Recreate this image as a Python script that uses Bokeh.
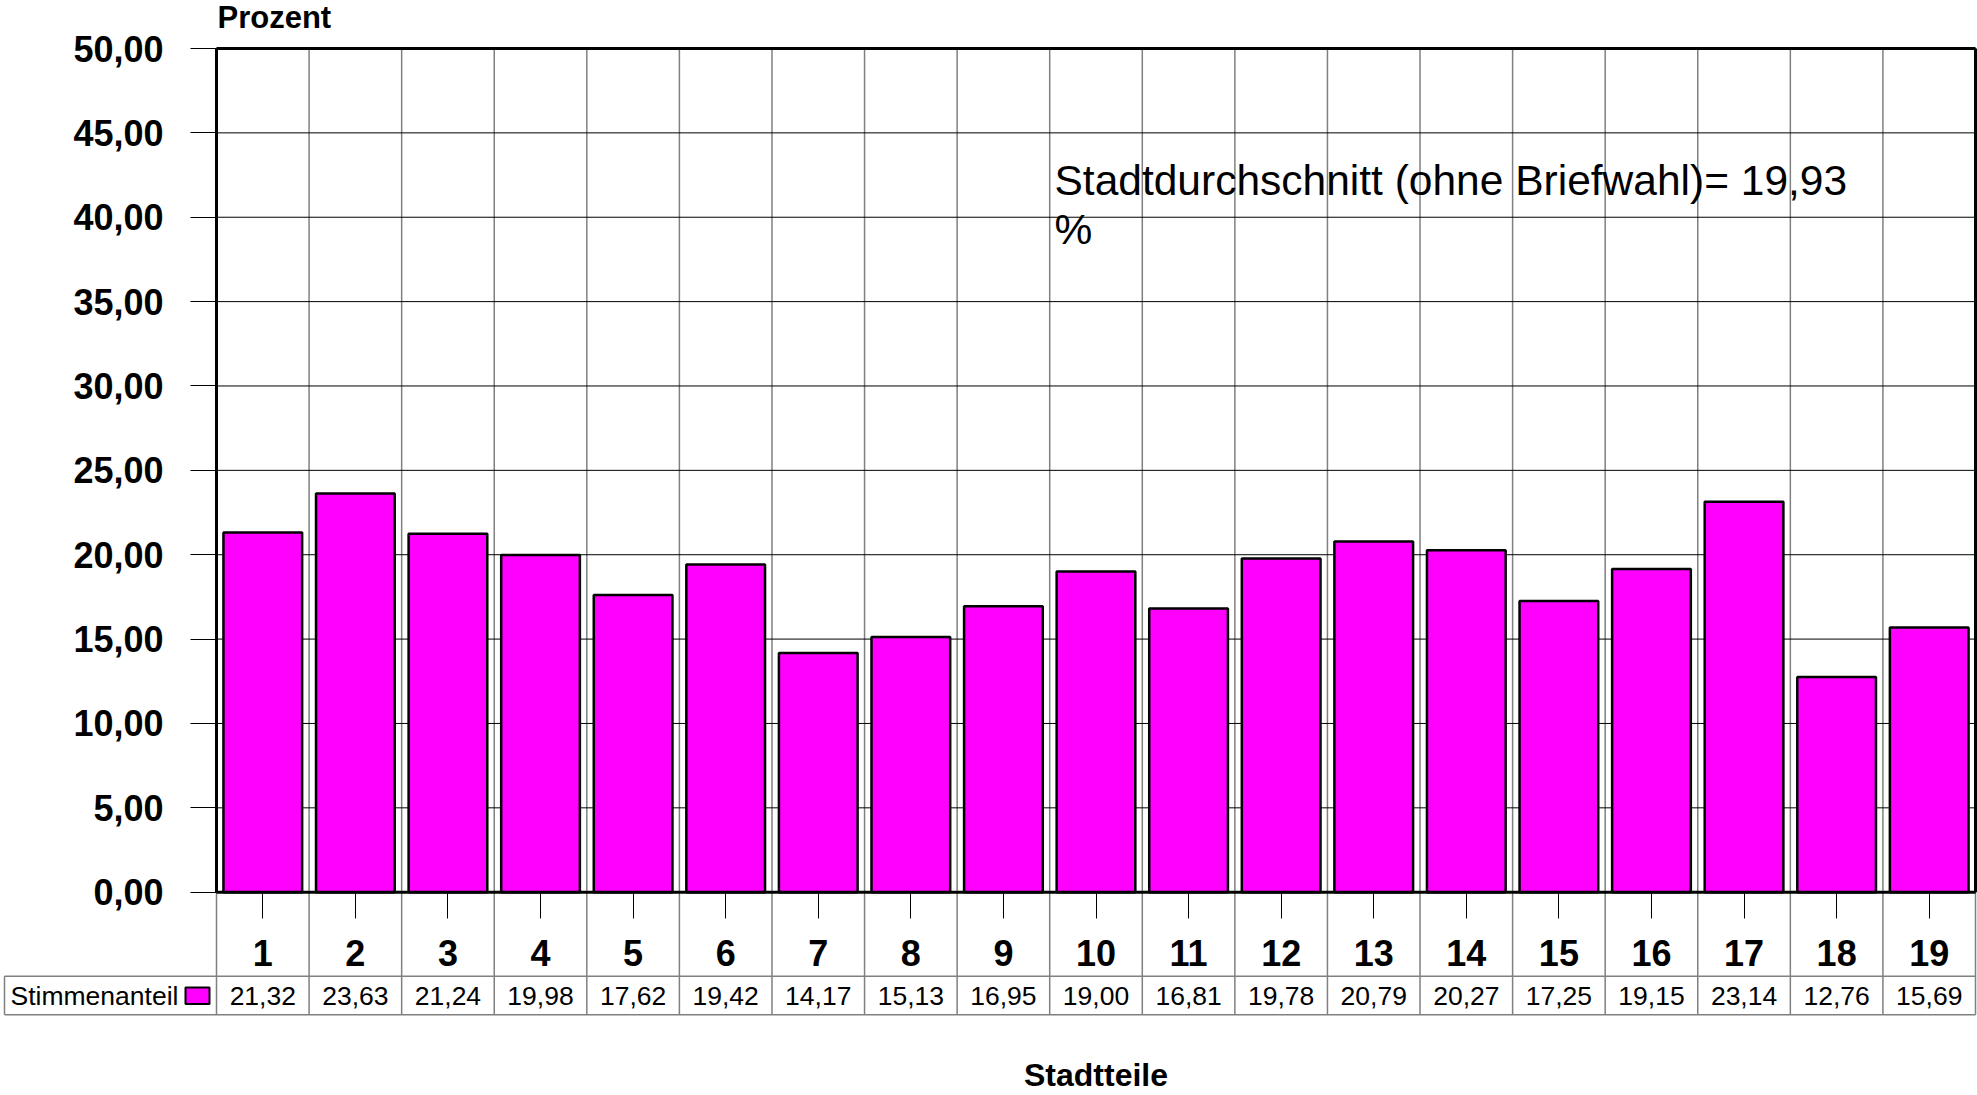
from bokeh.plotting import figure
from bokeh.models import FixedTicker, Range1d, Label, LinearAxis
from bokeh.core.properties import value
from bokeh.embed import file_html
from bokeh.resources import INLINE

# ---------------- data ----------------
categories = [str(i) for i in range(1, 20)]
stimmenanteil = [21.32, 23.63, 21.24, 19.98, 17.62, 19.42, 14.17, 15.13, 16.95, 19.00,
                 16.81, 19.78, 20.79, 20.27, 17.25, 19.15, 23.14, 12.76, 15.69]
series_name = "Stimmenanteil"
y_ticks = [0, 5, 10, 15, 20, 25, 30, 35, 40, 45, 50]
y_tick_labels = ["0,00", "5,00", "10,00", "15,00", "20,00", "25,00", "30,00",
                 "35,00", "40,00", "45,00", "50,00"]
y_axis_title = "Prozent"
x_axis_title = "Stadtteile"
note_lines = ["Stadtdurchschnitt (ohne Briefwahl)= 19,93", "%"]

# ---------------- layout constants (screen pixels) ----------------
FONT = "Liberation Sans"
W, H = 1977, 1095
SCR_L, SCR_T = 0, 0
PLOT_L, PLOT_R = 216.0, 1975.0          # screen x of plot-area edges
Y0_PX, Y50_PX = 891.7, 48.0             # screen y of 0 % and 50 %
n = len(categories)
XS = (PLOT_R - PLOT_L) / n               # px per category
YS = (Y0_PX - Y50_PX) / 50.0             # px per percent
positions = list(range(1, n + 1))
boundaries = [i + 0.5 for i in range(0, n + 1)]
x_lo, x_hi = 0.5, n + 0.5


def sx(px):
    return x_lo + (px - PLOT_L) / XS


def sy(py):
    return (Y0_PX - py) / YS


x_start, x_end = sx(SCR_L), sx(SCR_L + W)
y_start, y_end = sy(SCR_T + H), sy(SCR_T)
table_top = sy(975.7)
table_bot = sy(1014.3)
table_mid = (table_top + table_bot) / 2
table_left = sx(4)

p = figure(width=W, height=H, output_backend="svg", toolbar_location=None,
           x_range=Range1d(x_start, x_end), y_range=Range1d(y_start, y_end),
           x_axis_location=None, y_axis_location=None,
           min_border=0, min_border_left=0, min_border_right=0,
           min_border_top=0, min_border_bottom=0)
p.outline_line_color = None
p.background_fill_color = "white"
p.border_fill_color = "white"
p.grid.visible = False

# vertical grid at category boundaries (runs through label row and table)
p.segment(x0=boundaries, x1=boundaries, y0=[50] * len(boundaries),
          y1=[table_bot] * len(boundaries), line_color="#808080", line_width=1.5)

# horizontal grid lines inside the plot area
p.segment(x0=[x_lo] * len(y_ticks), x1=[x_hi] * len(y_ticks), y0=y_ticks, y1=y_ticks,
          line_color="black", line_width=1)

# table lines
p.segment(x0=[table_left, table_left], x1=[x_hi, x_hi], y0=[table_top, table_bot],
          y1=[table_top, table_bot], line_color="#808080", line_width=1.5)
p.segment(x0=[table_left], x1=[table_left], y0=[table_top], y1=[table_bot],
          line_color="#808080", line_width=1.5)

# bars
p.vbar(x=positions, top=stimmenanteil, bottom=0, width=0.85,
       fill_color="#FF00FF", line_color="black", line_width=2.5)

# plot border
p.segment(x0=[x_lo, x_lo, x_lo, x_hi], x1=[x_hi, x_hi, x_lo, x_hi],
          y0=[0, 50, 0, 0], y1=[0, 50, 50, 50], line_color="black", line_width=3)

# table contents
value_labels = [f"{v:.2f}".replace(".", ",") for v in stimmenanteil]
p.text(x=positions, y=[table_mid] * n, text=value_labels,
       text_font=value(FONT), text_font_size=value("26.5px"),
       text_align="center", text_baseline="middle", text_color="black")
p.text(x=[sx(10)], y=[table_mid], text=[series_name],
       text_font=value(FONT), text_font_size=value("26.5px"),
       text_align="left", text_baseline="middle", text_color="black")
p.quad(left=[sx(185)], right=[sx(209)],
       bottom=[sy(1003.5)], top=[sy(987)],
       fill_color="#FF00FF", line_color="black", line_width=2)

# axes
yax = LinearAxis(fixed_location=x_lo, bounds=(0, 50),
                 ticker=FixedTicker(ticks=y_ticks),
                 major_label_overrides=dict(zip(y_ticks, y_tick_labels)),
                 axis_line_color=None, major_tick_in=0, major_tick_out=26,
                 major_tick_line_color="black", major_tick_line_width=1,
                 minor_tick_line_color=None, major_label_standoff=27,
                 major_label_text_font=FONT, major_label_text_font_size="36px",
                 major_label_text_font_style="bold", major_label_text_color="black")
p.add_layout(yax, "left")

xax = LinearAxis(fixed_location=0, bounds=(x_lo, x_hi),
                 ticker=FixedTicker(ticks=positions),
                 major_label_overrides=dict(zip(positions, categories)),
                 axis_line_color=None, major_tick_in=0, major_tick_out=26,
                 major_tick_line_color="black", major_tick_line_width=1,
                 minor_tick_line_color=None, major_label_standoff=22,
                 major_label_text_font=FONT, major_label_text_font_size="36px",
                 major_label_text_font_style="bold", major_label_text_color="black",
                 axis_label=x_axis_title, axis_label_standoff=87,
                 axis_label_text_font=FONT, axis_label_text_font_size="32px",
                 axis_label_text_font_style="bold", axis_label_text_color="black")
p.add_layout(xax, "below")

# "Prozent" above the value axis
p.add_layout(Label(x=sx(217), y=sy(17), text=y_axis_title, text_font=FONT,
                   text_font_size="31px", text_font_style="bold",
                   text_baseline="alphabetic", text_color="black"))

# note
note_x = sx(1054)
p.add_layout(Label(x=note_x, y=sy(179.5), text=note_lines[0], text_font=FONT,
                   text_font_size="42.5px", text_baseline="alphabetic", text_color="black"))
p.add_layout(Label(x=note_x, y=sy(229), text=note_lines[1], text_font=FONT,
                   text_font_size="42.5px", text_baseline="alphabetic", text_color="black"))

open("out.html", "w").write(file_html(p, INLINE))
